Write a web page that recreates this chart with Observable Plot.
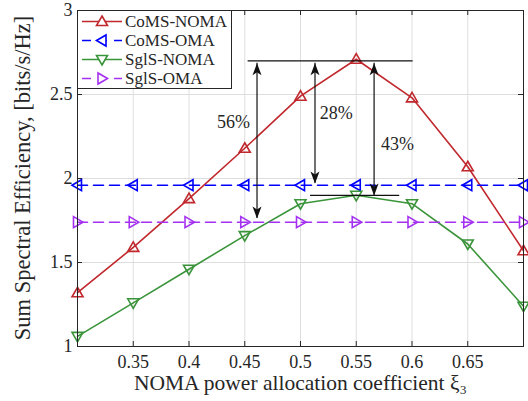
<!DOCTYPE html>
<html><head><meta charset="utf-8">
<script src="https://cdn.jsdelivr.net/npm/d3@7"></script>
<script src="https://cdn.jsdelivr.net/npm/@observablehq/plot@0.6"></script>
<style>
body{margin:0;background:#fff;}
#wrap{position:relative;width:528px;height:401px;}
#wrap svg text{font-family:"Liberation Serif",serif !important;}
#legend{position:absolute;left:77px;top:10px;width:153px;height:77px;border:1px solid #262626;background:#fff;font-family:"Liberation Serif",serif;font-size:17px;color:#262626;}
.row{position:absolute;left:3px;height:19px;display:flex;align-items:center;}
.row svg{margin-right:2px;}
</style></head>
<body><div id="wrap"><div id="legend"></div></div>
<script>
const xs = [0.3, 0.35, 0.4, 0.45, 0.5, 0.55, 0.6, 0.65, 0.7];
const comsNoma = [1.32, 1.59, 1.88, 2.18, 2.49, 2.71, 2.48, 2.07, 1.57];
const comsOma = [1.96, 1.96, 1.96, 1.96, 1.96, 1.96, 1.96, 1.96, 1.96];
const sglsNoma = [1.06, 1.26, 1.46, 1.66, 1.85, 1.90, 1.85, 1.61, 1.24];
const sglsOma = [1.74, 1.74, 1.74, 1.74, 1.74, 1.74, 1.74, 1.74, 1.74];
const seriesNames = ["CoMS-NOMA", "CoMS-OMA", "SglS-NOMA", "SglS-OMA"];
const xTicks = [0.35, 0.4, 0.45, 0.5, 0.55, 0.6, 0.65];
const yTicks = [1, 1.5, 2, 2.5, 3];
// annotations (data units)
const refLineX1 = [0.453, 0.509];
const refLineX2 = [0.601, 0.589];
const refLineY = [2.70, 1.90];
const arrowX = [0.461, 0.513, 0.566];
const arrowTop = [2.686, 2.686, 2.686];
const arrowBottom = [1.762, 1.97, 1.899];
const pctLabels = ["56%", "28%", "43%"];
const pctX = [0.44, 0.532, 0.587];
const pctY = [2.333, 2.387, 2.202];

const colors = ["#c0282d", "#0000ff", "#3a943a", "#a431f0"];
const dashes = [null, "10,6", null, "10,6"];
const sym = {
  up: {draw(c){c.moveTo(0,-5.5);c.lineTo(5.5,4);c.lineTo(-5.5,4);c.closePath();}},
  down: {draw(c){c.moveTo(0,5.5);c.lineTo(5.5,-4);c.lineTo(-5.5,-4);c.closePath();}},
  left: {draw(c){c.moveTo(-5.5,0);c.lineTo(4,-5.5);c.lineTo(4,5.5);c.closePath();}},
  right: {draw(c){c.moveTo(5.5,0);c.lineTo(-4,-5.5);c.lineTo(-4,5.5);c.closePath();}}
};
const symbols = [sym.up, sym.left, sym.down, sym.right];
const headUp = {draw(c){c.moveTo(0,0);c.lineTo(-4.5,12);c.lineTo(0,9);c.lineTo(4.5,12);c.closePath();}};
const headDown = {draw(c){c.moveTo(0,0);c.lineTo(-4.5,-12);c.lineTo(0,-9);c.lineTo(4.5,-12);c.closePath();}};

const allSeries = [comsNoma, comsOma, sglsNoma, sglsOma];
const data = [];
allSeries.forEach((vals, s) => vals.forEach((v, i) => data.push({series: seriesNames[s], s, x: xs[i], y: v})));
const refLines = refLineY.map((y, i) => ({x1: refLineX1[i], x2: refLineX2[i], y}));
const arrows = arrowX.map((x, i) => ({x, top: arrowTop[i], bottom: arrowBottom[i]}));
const pcts = pctLabels.map((t, i) => ({t, x: pctX[i], y: pctY[i]}));

const innerW = 528 - 77 - 5, innerH = 401 - 10 - 55;
const marks = [
  Plot.gridX(xTicks, {stroke: "#dedede", strokeOpacity: 1}),
  Plot.gridY(yTicks, {stroke: "#dedede", strokeOpacity: 1}),
  Plot.tickX(xTicks, {x: d => d, insetTop: innerH - 5, stroke: "#262626"}),
  Plot.tickX(xTicks, {x: d => d, insetBottom: innerH - 5, stroke: "#262626"}),
  Plot.tickY(yTicks, {y: d => d, insetRight: innerW - 5, stroke: "#262626"}),
  Plot.tickY(yTicks, {y: d => d, insetLeft: innerW - 5, stroke: "#262626"}),
  Plot.axisX(xTicks, {tickSize: 0, tickPadding: 9, tickFormat: d => String(d), fontSize: 18, label: null}),
  Plot.axisY(yTicks, {tickSize: 0, tickPadding: 5, tickFormat: d => String(d), fontSize: 18, label: null}),
  Plot.text(["NOMA power allocation coefficient ξ₃"], {frameAnchor: "bottom", dy: 43, fontSize: 21.5, fill: "#262626"}),
];
seriesNames.forEach((name, s) => {
  const d = data.filter(r => r.s === s);
  marks.push(Plot.line(d, {x: "x", y: "y", stroke: colors[s], strokeWidth: 1.6, strokeDasharray: dashes[s] || undefined}));
});
seriesNames.forEach((name, s) => {
  const d = data.filter(r => r.s === s);
  marks.push(Plot.dot(d, {x: "x", y: "y", symbol: () => symbols[s], stroke: colors[s], strokeWidth: 1.6, fill: "none", r: 5}));
});
marks.push(
  Plot.ruleY(refLines, {x1: "x1", x2: "x2", y: "y", stroke: "#111", strokeWidth: 1.2}),
  Plot.ruleX(arrows, {x: "x", y1: "bottom", y2: "top", stroke: "#111", strokeWidth: 1.2}),
  Plot.dot(arrows, {x: "x", y: "top", symbol: () => headUp, fill: "#111", stroke: "none", r: 5}),
  Plot.dot(arrows, {x: "x", y: "bottom", symbol: () => headDown, fill: "#111", stroke: "none", r: 5}),
  Plot.text(pcts, {x: "x", y: "y", text: "t", fontSize: 18, fill: "#262626"}),
  Plot.frame({stroke: "#262626", strokeWidth: 1})
);

const chart = Plot.plot({
  width: 528, height: 401,
  marginLeft: 77, marginRight: 5, marginTop: 10, marginBottom: 55,
  x: {domain: [0.3, 0.7]},
  y: {domain: [1, 3]},
  symbol: {type: "identity"},
  style: {fontFamily: "'Liberation Serif', serif", fontSize: "18px", color: "#262626", background: "white", overflow: "visible"},
  marks
});
const wrap = document.getElementById("wrap");
wrap.insertBefore(chart, wrap.firstChild);

// y-axis title as rotated SVG text appended to chart
const ns = "http://www.w3.org/2000/svg";
const yl = document.createElementNS(ns, "text");
yl.setAttribute("transform", "translate(25,178) rotate(-90)");
yl.setAttribute("text-anchor", "middle");
yl.setAttribute("dominant-baseline", "middle");
yl.setAttribute("font-size", "22.5");
yl.setAttribute("fill", "#262626");
yl.textContent = "Sum Spectral Efficiency, [bits/s/Hz]";
chart.appendChild(yl);

// legend
const legend = document.getElementById("legend");
const shapes = {
  0: "M0,-5.5L5.5,4L-5.5,4Z",
  1: "M-5.5,0L4,-5.5L4,5.5Z",
  2: "M0,5.5L5.5,-4L-5.5,-4Z",
  3: "M5.5,0L-4,-5.5L-4,5.5Z"
};
seriesNames.forEach((name, s) => {
  const row = document.createElement("div");
  row.className = "row";
  row.style.top = (1 + s * 19) + "px";
  row.innerHTML = `<svg width="42" height="19"><line x1="1" x2="41" y1="9.5" y2="9.5" stroke="${colors[s]}" stroke-width="1.6" ${dashes[s] ? `stroke-dasharray="9,7"` : ""}/><path transform="translate(21,9.5)" d="${shapes[s]}" fill="white" stroke="${colors[s]}" stroke-width="1.6"/></svg><span>${name}</span>`;
  legend.appendChild(row);
});
</script></body></html>
